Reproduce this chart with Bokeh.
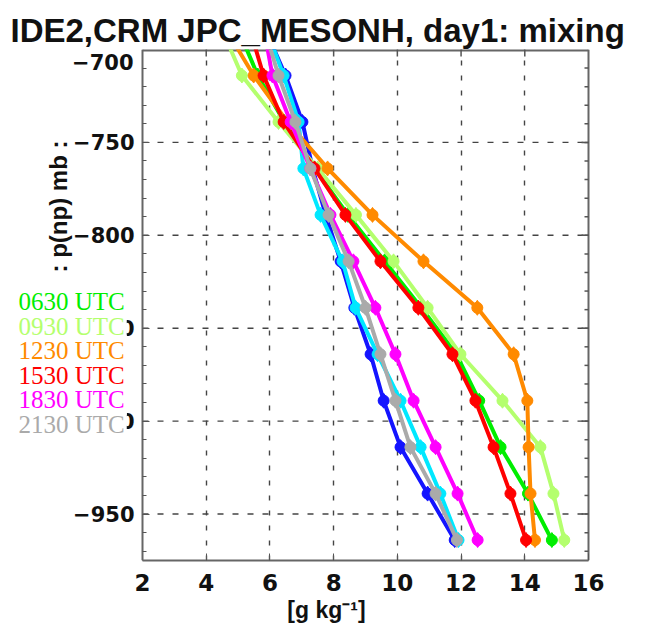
import math
from bokeh.plotting import figure
from bokeh.models import Label, FixedTicker
from bokeh.embed import file_html
from bokeh.resources import INLINE

# ---------------- data ----------------
pressure = [-689, -714, -739, -764, -789, -814, -839, -864, -889, -914, -939, -964]

# two profiles drawn without a legend entry (blue, cyan)
q_blue = [5.85, 6.49, 7.02, 7.34, 7.75, 8.22, 8.65, 9.16, 9.57, 10.10, 10.95, 11.80]
q_cyan = [5.89, 6.43, 6.90, 7.05, 7.59, 8.28, 8.69, 9.38, 10.10, 10.73, 11.35, 11.92]
q_0630 = [5.00, 5.62, 6.45, 7.40, 8.45, 9.60, 10.75, 11.85, 12.57, 13.24, 14.10, 14.85]
q_0930 = [4.49, 5.12, 6.27, 7.50, 8.70, 9.88, 10.95, 11.98, 13.30, 14.49, 14.90, 15.24]
q_1230 = [4.62, 5.49, 6.55, 7.81, 9.22, 10.82, 12.51, 13.65, 14.08, 14.12, 14.18, 14.32]
q_1530 = [5.37, 5.80, 6.43, 7.40, 8.37, 9.47, 10.66, 11.73, 12.45, 13.02, 13.55, 14.04]
q_1830 = [5.81, 6.08, 6.65, 7.27, 7.90, 8.62, 9.31, 9.94, 10.51, 11.20, 11.89, 12.52]
q_2130 = [5.83, 6.27, 6.80, 7.27, 7.84, 8.47, 9.00, 9.47, 9.94, 10.41, 11.20, 11.87]

legend_labels = ["0630 UTC", "0930 UTC", "1230 UTC", "1530 UTC", "1830 UTC", "2130 UTC"]
x_ticks = [2, 4, 6, 8, 10, 12, 14, 16]
x_inner = [4, 6, 8, 10, 12, 14]
y_ticks = [-950, -900, -850, -800, -750]
y_tick_labels = ["\u2212950", "\u2212900", "\u2212850", "\u2212800", "\u2212750"]
y_top = -700
y_top_label = "\u2212700"
y_minor = list(range(-970, -700, 10))

title_text = "IDE2,CRM JPC_MESONH, day1: mixing"
ylabel_text = ": p(np) mb :"
xlabel_text = "[g kg\u207b\u00b9]"

# ---------------- styling ----------------
C_BLUE, C_CYAN = "#1414ff", "#00e8ff"
colors = ["#00ee00", "#b4ff6e", "#ff8a00", "#ff0000", "#ff00ff", "#aaaaaa"]
series = [(q_blue, C_BLUE), (q_cyan, C_CYAN)] + list(zip(
    [q_0630, q_0930, q_1230, q_1530, q_1830, q_2130], colors))

W, H = 652, 627
BOX_L, BOX_R = 142, 588          # pixel position of x=2 and x=16
T, B = 49, 67
X0, X1 = 2, 16
ppu = (BOX_R - BOX_L) / (X1 - X0)
XR = (X0 - BOX_L / ppu, X0 + (W - BOX_L) / ppu)   # frame spans whole width
YR = (-975, -700)
fh = H - T - B

def px2x(px):
    return X0 + (px - BOX_L) / ppu
def py2y(py):
    return YR[1] - (py - T) * (YR[1] - YR[0]) / fh

p = figure(width=W, height=H, x_range=XR, y_range=YR,
           min_border_left=0, min_border_right=0, min_border_top=T, min_border_bottom=B,
           output_backend="svg", toolbar_location=None, title=title_text)
p.outline_line_color = None
p.background_fill_color = "white"
p.border_fill_color = "white"

# title
p.title.align = "left"
p.title.offset = 10
p.title.standoff = 2
p.title.text_font = "Liberation Sans"
p.title.text_font_style = "bold"
p.title.text_font_size = "33px"
p.title.text_color = "#111111"

# grids
grid_col = "#444444"
p.xgrid.ticker = FixedTicker(ticks=x_inner)
p.xgrid.grid_line_color = grid_col
p.xgrid.grid_line_width = 1.4
p.xgrid.grid_line_dash = "5 10"
p.ygrid.visible = False
p.segment(x0=X0, x1=X1, y0=y_ticks, y1=y_ticks, line_color=grid_col,
          line_width=1.4, line_dash="6 9")

axis_col = "#666666"
tick_col = "#555555"
xax = p.xaxis[0]
yax = p.yaxis[0]
for ax in (xax, yax):
    ax.axis_line_color = axis_col
    ax.axis_line_width = 2
    ax.major_tick_line_color = tick_col
    ax.minor_tick_line_color = tick_col
    ax.major_tick_in = 7
    ax.major_tick_out = 0
    ax.minor_tick_in = 4
    ax.minor_tick_out = 0

xax.ticker = FixedTicker(ticks=x_ticks)
xax.bounds = (X0, X1)
xax.minor_tick_line_color = None
xax.major_label_text_font = "DejaVu Sans"
xax.major_label_text_font_style = "bold"
xax.major_label_text_font_size = "23px"
xax.major_label_text_color = "#111111"
xax.major_label_standoff = 13
xax.axis_label = xlabel_text
xax.axis_label_text_font = "Liberation Sans"
xax.axis_label_text_font_style = "bold"
xax.axis_label_text_font_size = "23px"
xax.axis_label_text_color = "#111111"
xax.axis_label_standoff = 3

yax.fixed_location = X0
yax.bounds = YR
yax.ticker = FixedTicker(ticks=y_ticks, minor_ticks=y_minor)
yax.major_label_overrides = dict(zip(y_ticks, y_tick_labels))
yax.major_label_text_font = "DejaVu Sans"
yax.major_label_text_font_style = "bold"
yax.major_label_text_font_size = "21px"
yax.major_label_text_color = "#111111"
yax.major_label_standoff = 8

# top label of the pressure axis sits just below the box edge
p.add_layout(Label(x=px2x(133), y=py2y(61), text=y_top_label, text_align="right",
                   text_baseline="middle", text_font="DejaVu Sans",
                   text_font_style="bold", text_font_size="21px", text_color="#111111"))

# top and right edges of the box with inward ticks
p.segment(x0=X0, y0=y_top, x1=X1, y1=y_top, line_color=axis_col, line_width=4)
p.segment(x0=X1, y0=YR[0], x1=X1, y1=YR[1], line_color=axis_col, line_width=2)
p.ray(x=x_inner, y=y_top, length=7, length_units="screen", angle=-math.pi / 2,
      line_color=tick_col, line_width=1.5)
p.ray(x=X1, y=y_ticks, length=7, length_units="screen", angle=math.pi,
      line_color=tick_col, line_width=1.5)
p.ray(x=X1, y=y_minor, length=4, length_units="screen", angle=math.pi,
      line_color=tick_col, line_width=1.5)

# profiles
for q, c in series:
    p.line(q, pressure, line_width=4, line_color=c)
    p.scatter(q, pressure, marker="diamond", size=15, fill_color=c, line_color=c)
    p.scatter(q, pressure, marker="circle", size=11, fill_color=c, line_color=c)

# y label
p.add_layout(Label(x=px2x(58), y=py2y(206), text=ylabel_text, angle=math.pi / 2,
                   text_align="center", text_baseline="alphabetic",
                   text_font="Liberation Sans", text_font_style="bold",
                   text_font_size="24px", text_color="#111111"))
# legend (coloured texts on white)
for i, (lab, c) in enumerate(zip(legend_labels, colors)):
    cy = 301 + 24.6 * i
    p.add_layout(Label(x=px2x(16), y=py2y(cy), text=lab, text_align="left",
                       text_baseline="alphabetic", text_font="Liberation Serif",
                       text_font_size="25px", text_color=c,
                       background_fill_color="white", padding=2))

open("out.html", "w").write(file_html(p, INLINE))
